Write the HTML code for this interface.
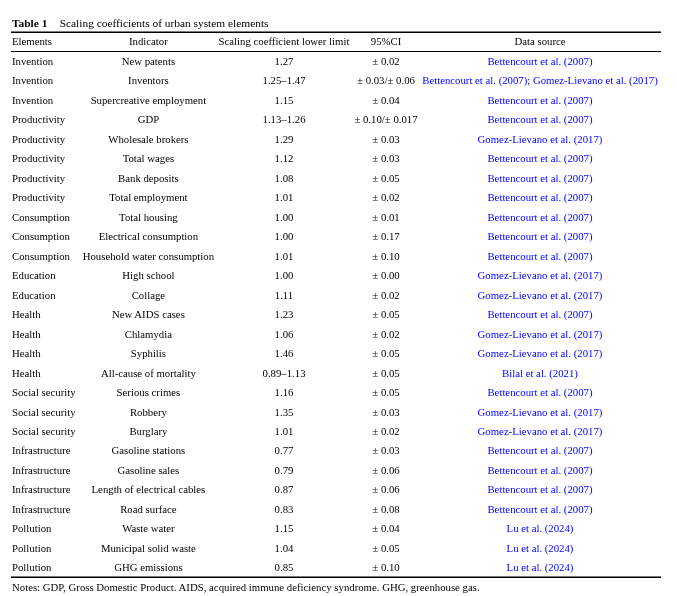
<!DOCTYPE html>
<html><head><meta charset="utf-8"><title>Table 1</title>
<style>
html,body{margin:0;padding:0;background:#fff;}
body{width:677px;height:596px;position:relative;overflow:hidden;font-family:"Liberation Serif",serif;font-size:10.75px;color:#000;}
#w{position:absolute;left:0;top:0;width:677px;height:596px;will-change:transform;}
.r{position:absolute;left:0;width:677px;height:14px;line-height:14px;white-space:nowrap;}
.r span{position:absolute;top:0;}
.a{left:12px;}
.b,.c,.d,.e{width:300px;text-align:center;}
.b{left:-1.6px;}
.c{left:134px;}
.d{left:236px;}
.e{left:390px;color:#0000ff;}
.e i{font-style:normal;color:#000;}
.ln{position:absolute;left:11px;width:650px;background:#000;}
</style></head><body><div id="w">
<div class="r" style="top:16px"><span class="a" style="font-size:11.4px"><b>Table 1</b><span style="position:static;display:inline-block;width:12.3px"></span>Scaling coefficients of urban system elements</span></div>
<div class="ln" style="top:31px;height:1px;background:#7a7a7a"></div>
<div class="ln" style="top:32px;height:1px;background:#000"></div>
<div class="ln" style="top:51px;height:1px;background:#000"></div>
<div class="ln" style="top:576px;height:1px;background:#7a7a7a"></div>
<div class="ln" style="top:577px;height:1px;background:#000"></div>
<div class="r" style="top:33.5px"><span class="a">Elements</span><span class="b">Indicator</span><span class="c">Scaling coefficient lower limit</span><span class="d">95%CI</span><span class="e" style="color:#000">Data source</span></div>
<div class="r" style="top:54.00px"><span class="a">Invention</span><span class="b">New patents</span><span class="c">1.27</span><span class="d">± 0.02</span><span class="e">Bettencourt et al. (2007)</span></div>
<div class="r" style="top:73.00px"><span class="a">Invention</span><span class="b">Inventors</span><span class="c">1.25–1.47</span><span class="d">± 0.03/± 0.06</span><span class="e">Bettencourt et al. (2007)<i>;</i> Gomez-Lievano et al. (2017)</span></div>
<div class="r" style="top:93.00px"><span class="a">Invention</span><span class="b">Supercreative employment</span><span class="c">1.15</span><span class="d">± 0.04</span><span class="e">Bettencourt et al. (2007)</span></div>
<div class="r" style="top:112.00px"><span class="a">Productivity</span><span class="b">GDP</span><span class="c">1.13–1.26</span><span class="d">± 0.10/± 0.017</span><span class="e">Bettencourt et al. (2007)</span></div>
<div class="r" style="top:132.00px"><span class="a">Productivity</span><span class="b">Wholesale brokers</span><span class="c">1.29</span><span class="d">± 0.03</span><span class="e">Gomez-Lievano et al. (2017)</span></div>
<div class="r" style="top:151.00px"><span class="a">Productivity</span><span class="b">Total wages</span><span class="c">1.12</span><span class="d">± 0.03</span><span class="e">Bettencourt et al. (2007)</span></div>
<div class="r" style="top:171.00px"><span class="a">Productivity</span><span class="b">Bank deposits</span><span class="c">1.08</span><span class="d">± 0.05</span><span class="e">Bettencourt et al. (2007)</span></div>
<div class="r" style="top:190.00px"><span class="a">Productivity</span><span class="b">Total employment</span><span class="c">1.01</span><span class="d">± 0.02</span><span class="e">Bettencourt et al. (2007)</span></div>
<div class="r" style="top:210.00px"><span class="a">Consumption</span><span class="b">Total housing</span><span class="c">1.00</span><span class="d">± 0.01</span><span class="e">Bettencourt et al. (2007)</span></div>
<div class="r" style="top:229.00px"><span class="a">Consumption</span><span class="b">Electrical consumption</span><span class="c">1.00</span><span class="d">± 0.17</span><span class="e">Bettencourt et al. (2007)</span></div>
<div class="r" style="top:249.00px"><span class="a">Consumption</span><span class="b">Household water consumption</span><span class="c">1.01</span><span class="d">± 0.10</span><span class="e">Bettencourt et al. (2007)</span></div>
<div class="r" style="top:268.00px"><span class="a">Education</span><span class="b">High school</span><span class="c">1.00</span><span class="d">± 0.00</span><span class="e">Gomez-Lievano et al. (2017)</span></div>
<div class="r" style="top:288.00px"><span class="a">Education</span><span class="b">Collage</span><span class="c">1.11</span><span class="d">± 0.02</span><span class="e">Gomez-Lievano et al. (2017)</span></div>
<div class="r" style="top:307.00px"><span class="a">Health</span><span class="b">New AIDS cases</span><span class="c">1.23</span><span class="d">± 0.05</span><span class="e">Bettencourt et al. (2007)</span></div>
<div class="r" style="top:327.00px"><span class="a">Health</span><span class="b">Chlamydia</span><span class="c">1.06</span><span class="d">± 0.02</span><span class="e">Gomez-Lievano et al. (2017)</span></div>
<div class="r" style="top:346.00px"><span class="a">Health</span><span class="b">Syphilis</span><span class="c">1.46</span><span class="d">± 0.05</span><span class="e">Gomez-Lievano et al. (2017)</span></div>
<div class="r" style="top:366.00px"><span class="a">Health</span><span class="b">All-cause of mortality</span><span class="c">0.89–1.13</span><span class="d">± 0.05</span><span class="e">Bilal et al. (2021)</span></div>
<div class="r" style="top:385.00px"><span class="a">Social security</span><span class="b">Serious crimes</span><span class="c">1.16</span><span class="d">± 0.05</span><span class="e">Bettencourt et al. (2007)</span></div>
<div class="r" style="top:405.00px"><span class="a">Social security</span><span class="b">Robbery</span><span class="c">1.35</span><span class="d">± 0.03</span><span class="e">Gomez-Lievano et al. (2017)</span></div>
<div class="r" style="top:424.00px"><span class="a">Social security</span><span class="b">Burglary</span><span class="c">1.01</span><span class="d">± 0.02</span><span class="e">Gomez-Lievano et al. (2017)</span></div>
<div class="r" style="top:443.00px"><span class="a">Infrastructure</span><span class="b">Gasoline stations</span><span class="c">0.77</span><span class="d">± 0.03</span><span class="e">Bettencourt et al. (2007)</span></div>
<div class="r" style="top:463.00px"><span class="a">Infrastructure</span><span class="b">Gasoline sales</span><span class="c">0.79</span><span class="d">± 0.06</span><span class="e">Bettencourt et al. (2007)</span></div>
<div class="r" style="top:482.00px"><span class="a">Infrastructure</span><span class="b">Length of electrical cables</span><span class="c">0.87</span><span class="d">± 0.06</span><span class="e">Bettencourt et al. (2007)</span></div>
<div class="r" style="top:502.00px"><span class="a">Infrastructure</span><span class="b">Road surface</span><span class="c">0.83</span><span class="d">± 0.08</span><span class="e">Bettencourt et al. (2007)</span></div>
<div class="r" style="top:521.00px"><span class="a">Pollution</span><span class="b">Waste water</span><span class="c">1.15</span><span class="d">± 0.04</span><span class="e">Lu et al. (2024)</span></div>
<div class="r" style="top:541.00px"><span class="a">Pollution</span><span class="b">Municipal solid waste</span><span class="c">1.04</span><span class="d">± 0.05</span><span class="e">Lu et al. (2024)</span></div>
<div class="r" style="top:560.00px"><span class="a">Pollution</span><span class="b">GHG emissions</span><span class="c">0.85</span><span class="d">± 0.10</span><span class="e">Lu et al. (2024)</span></div>
<div class="r" style="top:580px;font-size:10.78px"><span class="a">Notes: GDP, Gross Domestic Product. AIDS, acquired immune deficiency syndrome. GHG, greenhouse gas.</span></div>
</div></body></html>
